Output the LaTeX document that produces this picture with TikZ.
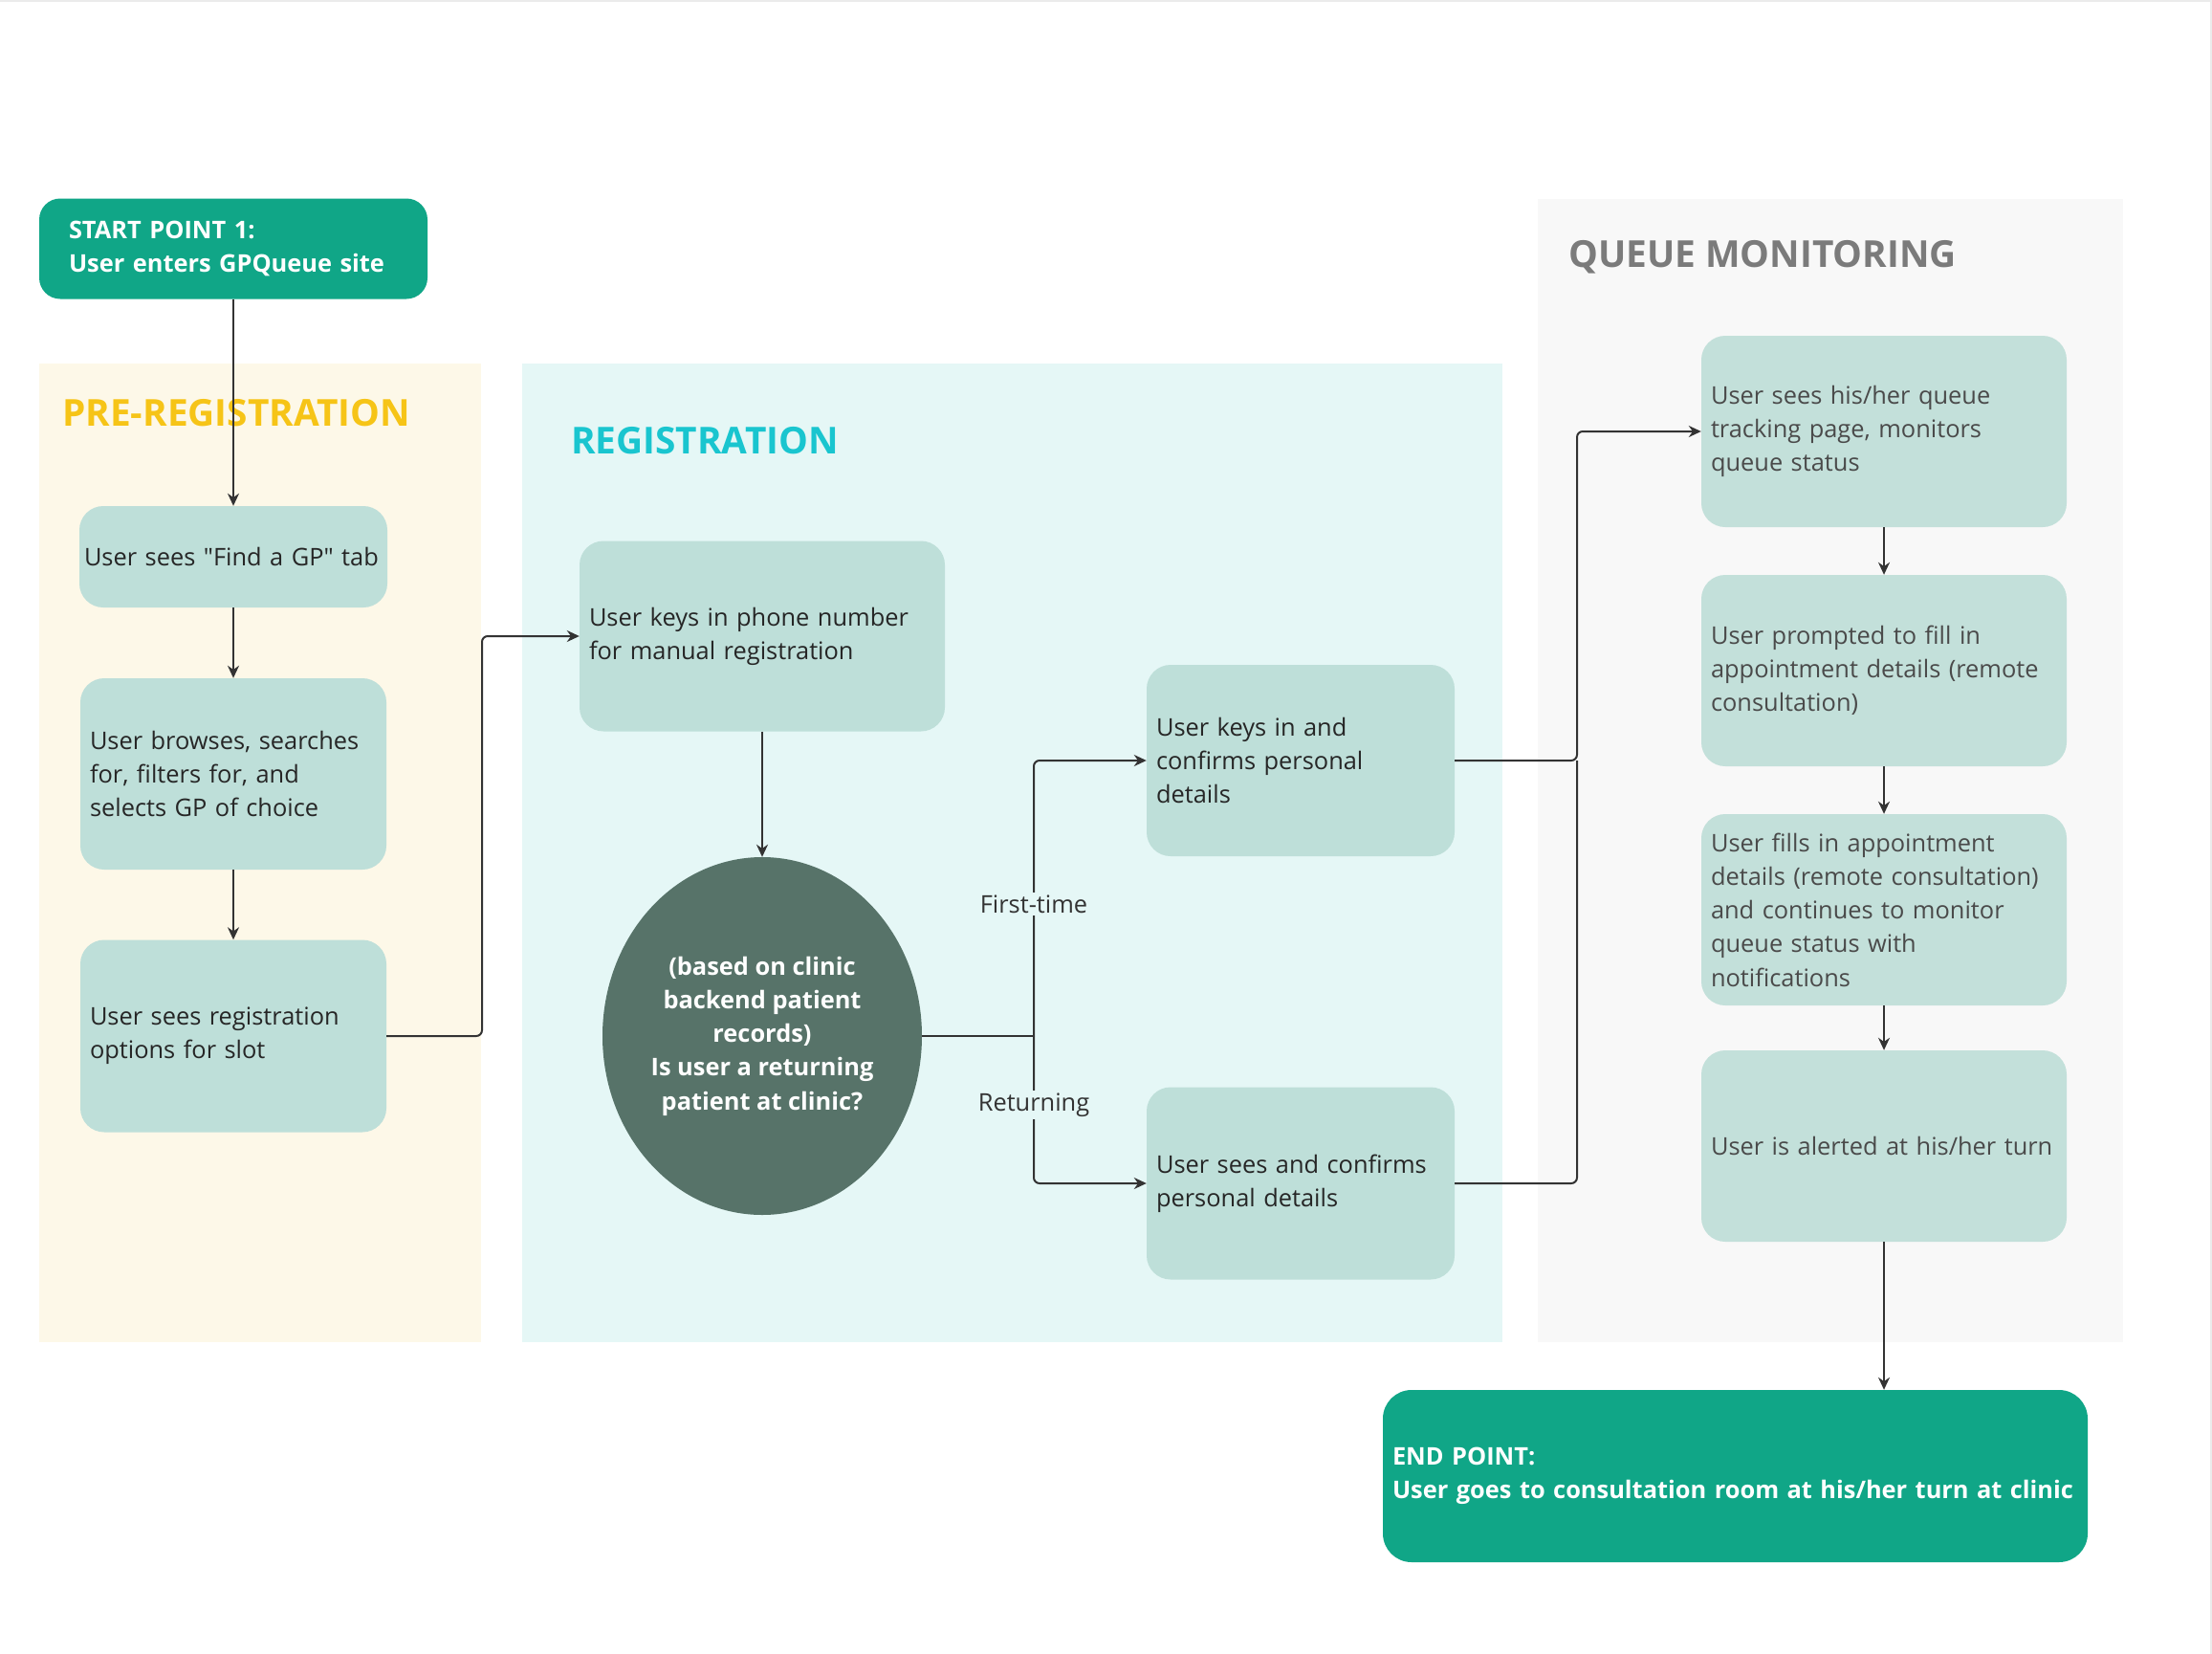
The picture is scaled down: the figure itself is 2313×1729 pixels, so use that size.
\documentclass[tikz,border=0pt]{standalone}
\usepackage{fontspec}
\setmainfont{Open Sans}[Ligatures=TeXOff]
\usetikzlibrary{shapes.geometric,arrows.meta}
\definecolor{startgreen}{HTML}{10A687}
\definecolor{boxc}{HTML}{BEDFD9}
\definecolor{qboxc}{HTML}{C3E0DA}
\definecolor{prebg}{HTML}{FDF8E8}
\definecolor{regbg}{HTML}{E5F7F6}
\definecolor{queuebg}{HTML}{F8F8F8}
\definecolor{pretitle}{HTML}{F6C417}
\definecolor{regtitle}{HTML}{19C5CF}
\definecolor{qtitle}{HTML}{7B7B7B}
\definecolor{decc}{HTML}{577369}
\definecolor{linec}{HTML}{333333}
\definecolor{txtc}{HTML}{262626}
\definecolor{qtxtc}{HTML}{4A4A4A}
\begin{document}
\begin{tikzpicture}[x=1pt,y=-1pt,
  bodyf/.style={font=\fontsize{25.4}{35.2}\selectfont},
  box/.style={bodyf, rectangle, rounded corners=25, fill=boxc, text=txtc, align=left, inner xsep=10, inner ysep=0},
  qbox/.style={box, fill=qboxc, text=qtxtc, text width=362, minimum height=200},
  term/.style={rectangle, fill=startgreen, text=white, align=left, inner ysep=0,
     font=\fontsize{25.4}{35.2}\selectfont\bfseries},
  ttl/.style={anchor=base west, inner sep=0, font=\fontsize{38.8}{46}\selectfont\bfseries},
  line/.style={draw=linec, line width=2},
  arr/.style={line, -{Stealth[length=13,width=12]}},
  lbl/.style={bodyf, text=linec, inner sep=3}
]
\useasboundingbox (0,0) rectangle (2313,1729);
\fill[white] (0,0) rectangle (2313,1729);
\draw[draw=black!8, line width=2] (0,1) -- (2312,1) -- (2312,1729);

% panels
\fill[prebg] (41,380) rectangle (503,1403);
\fill[regbg] (546,380) rectangle (1571,1403);
\fill[queuebg] (1608,208) rectangle (2220,1403);

% titles
\node[ttl, text=pretitle] (pretitle) at (65,445) {PRE-REGISTRATION};
\node[ttl, text=regtitle] (regtitle) at (597,474) {REGISTRATION};
\node[ttl, text=qtitle] (qtitle) at (1640,279) {QUEUE MONITORING};

% start / end
\node[term, rounded corners=22, inner xsep=31, text width=344, minimum height=105] (start) at (244,260)
  {START POINT 1:\\User enters GPQueue site};
\node[term, rounded corners=30, inner xsep=10, text width=717, minimum height=180] (endpt) at (1814.5,1543)
  {END POINT:\\User goes to consultation room at his/her turn at clinic};

% pre-registration
\node[box, inner xsep=5, text width=312, minimum height=106] (find) at (244,582) {User sees "Find a GP" tab};
\node[box, text width=300, minimum height=200] (browse) at (244,809)
  {User browses, searches\\for, filters for, and\\selects GP of choice};
\node[box, text width=300, minimum height=201] (options) at (244,1083)
  {User sees registration\\options for slot};

% registration
\node[box, text width=362, minimum height=199] (phone) at (797,665)
  {User keys in phone number\\for manual registration};
\node[ellipse, fill=decc, minimum width=334, minimum height=374, inner sep=0] (decision) at (797,1083) {};
\node[text=white, align=center, inner sep=0, font=\fontsize{25.4}{35.2}\selectfont\bfseries] (dectext) at (decision.center)
  {(based on clinic\\backend patient\\records)\\Is user a returning\\patient at clinic?};
\node[box, text width=302, minimum height=200] (keys) at (1360,795)
  {User keys in and\\confirms personal\\details};
\node[box, text width=302, minimum height=201] (sees) at (1360,1237)
  {User sees and confirms\\personal details};

% queue monitoring
\node[qbox] (q1) at (1970,451) {User sees his/her queue\\tracking page, monitors\\queue status};
\node[qbox] (q2) at (1970,701) {User prompted to fill in\\appointment details (remote\\consultation)};
\node[qbox] (q3) at (1970,951) {User fills in appointment\\details (remote consultation)\\and continues to monitor\\queue status with\\notifications};
\node[qbox] (q4) at (1970,1198) {User is alerted at his/her turn};

% connectors
\coordinate (jx) at (1081,1083);
\coordinate (qx) at (1649,795);
\draw[arr] (start.south) -- (find.north);
\draw[arr] (find.south) -- (browse.north);
\draw[arr] (browse.south) -- (options.north);
\draw[arr, rounded corners=6] (options.east) -- (504,1083) |- (phone.west);
\draw[arr] (phone.south) -- (decision.north);
\draw[line] (decision.east) -- (jx);
\draw[arr, rounded corners=6] (jx) |- (keys.west);
\draw[arr, rounded corners=6] (jx) |- (sees.west);
\draw[line, rounded corners=6] (sees.east) -| (qx);
\draw[arr, rounded corners=6] (keys.east) -- (qx) |- (q1.west);
\draw[arr] (q1.south) -- (q2.north);
\draw[arr] (q2.south) -- (q3.north);
\draw[arr] (q3.south) -- (q4.north);
\draw[arr] (q4.south) -- (q4.south |- endpt.north);

% labels
\node[lbl, fill=regbg] (lfirst) at (1081,945) {First-time};
\node[lbl, fill=regbg] (lret) at (1081,1155) {Returning};
\end{tikzpicture}
\end{document}
